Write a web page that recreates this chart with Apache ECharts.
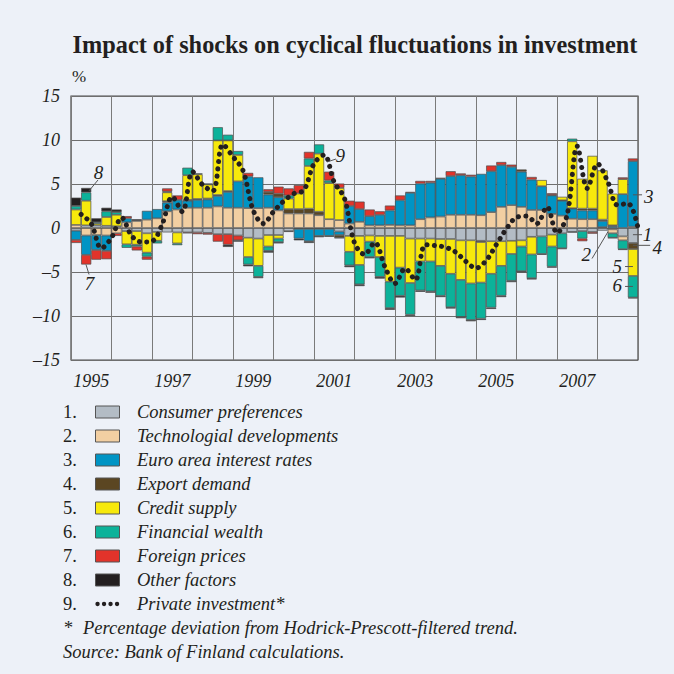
<!DOCTYPE html>
<html>
<head>
<meta charset="utf-8">
<script src="https://cdn.jsdelivr.net/npm/echarts@6/dist/echarts.min.js"></script>
<style>
  html, body { margin: 0; padding: 0; background: #EDF1F8; }
  #chart { width: 674px; height: 674px; }
</style>
</head>
<body>
<div id="chart"></div>
<script>
// years on the axis, one bar per quarter
var years = ['1995', '1996', '1997', '1998', '1999', '2000', '2001',
             '2002', '2003', '2004', '2005', '2006', '2007', '2008'];
var quarters = [];
years.forEach(function (y) {
  ['Q1', 'Q2', 'Q3', 'Q4'].forEach(function (q) { quarters.push(y + q); });
});
var yTicks = [-15, -10, -5, 0, 5, 10, 15];

// contributions, percentage points
var consumerPreferences = [
  -0.3, 0.3, 0.3, 0.25, 0.2, -0.35, -0.35, -0.6,
  -0.45, -0.5, -0.5, -0.5, -0.5, -0.55, -0.7, -0.7,
  -0.85, -1.1, -1.2, -0.8, -0.8, -0.35, -0.1, -0.1,
  -0.1, -0.1, -0.4, -0.9, -0.9, -0.85, -0.9, -0.9,
  -0.9, -1.2, -1.2, -1.2, -1.25, -1.25, -1.4, -1.4,
  -1.45, -1.5, -1.5, -1.45, -1.4, -1.0, -0.95, -0.75,
  -0.6, -0.45, -0.35, -0.45, -0.3, -0.15, -0.95, -1.7];
var technologicalDevelopments = [
  0.35, -0.85, -0.8, -0.85, -0.6, 0.65, 0.8, 0.95,
  1.1, 1.9, 2.1, 2.3, 2.3, 2.3, 2.45, 2.3,
  2.3, 2.26, 2.26, 2.3, 2.0, 1.65, 1.65, 1.65,
  1.45, 1.0, 0.9, 0.5, 0.7, 0.3, 0.3, 0.35,
  0.3, 0.3, 1.0, 1.2, 1.3, 1.5, 1.5, 1.5,
  1.45, 1.8, 2.4, 2.6, 2.4, 2.05, 2.05, 1.6,
  1.4, 1.05, 1.0, 1.0, 0.1, -0.45, -0.45, 0.15];
var euroAreaInterestRates = [
  -1.05, -2.2, -1.7, -1.75, 0, 0.45, 0, 1.0,
  1.05, 1.0, 1.1, 0.8, 0.9, 0.95, 1.2, 1.8,
  3.0, 3.6, 3.5, 1.5, 1.5, 0, -1.1, -1.4,
  -0.8, -0.8, -0.4, 2.0, 1.45, 1.05, 1.2, 1.65,
  2.85, 3.7, 4.05, 3.95, 4.3, 4.4, 4.5, 4.35,
  4.7, 4.65, 4.75, 4.35, 4.0, 3.45, 2.7, 2.1,
  1.7, 1.15, 1.0, 1.0, 0.7, 0.2, 3.85, 7.45];
var exportDemand = [
  0, 0, 0, 0, 0, 0, 0, 0,
  0, 0.15, 0, 0.1, 0.1, 0.1, 0.1, 0.1,
  0, 0, 0, 0.3, 0.4, 0.5, 0.5, 0.55,
  0.4, 0, -0.3, 0, 0, 0, 0, 0,
  0, 0, 0, 0, 0.1, 0, 0, 0,
  -0.15, 0, 0, 0, 0.25, 0, 0, 0.05,
  0.05, 0.05, 0.2, 0.2, 0.15, 0.1, 0, -0.7];
var creditSupply = [
  1.75, 2.8, 0.2, 1.0, 1.3, -1.5, -1.55, -2.2,
  -1.0, 1.0, -1.25, 2.8, 2.8, 1.6, 6.2, 5.75,
  3.0, -2.2, -3.1, -1.3, -0.4, 1.2, 1.77, 4.85,
  6.6, 4.1, 3.65, -1.8, -3.3, -0.7, -2.4, -5.2,
  -3.6, -5.05, -2.6, -2.6, -3.05, -3.95, -4.5, -4.9,
  -4.6, -3.7, -2.8, -1.5, -0.7, -2.0, 0.7, -1.35,
  0.4, 7.6, 3.4, 6.0, 5.6, 3.6, 1.7, -3.05];
var financialWealth = [
  0.4, 0.95, 0.15, 0.65, 0.3, -0.4, -0.2, -0.45,
  -0.3, 0.1, -0.2, 0.85, 0.1, 0.1, 1.5, 0.65,
  0.45, -0.85, -1.25, -0.5, -0.4, 0.35, 0, 0.85,
  1.05, 0.3, 0, -1.55, -2.2, -1.75, -2.25, -3.0,
  -3.2, -3.6, -3.3, -3.4, -3.4, -3.8, -4.2, -4.15,
  -4.1, -3.85, -3.4, -3.05, -2.8, -2.7, -2.0, -2.3,
  -1.7, 0.3, -0.85, 0, 0, -0.5, -1.0, -2.45];
var foreignPrices = [
  -0.35, -1.1, -1.1, -0.95, -0.3, 0.25, -0.45, -0.35,
  0, 0.35, 0.5, -0.1, -0.2, -0.2, -0.85, -1.2,
  -0.55, 0.4, 0, 0.3, 0.8, 0.8, 0.95, 0.75,
  0, 1.0, 0.5, 0.6, 0.85, 0.75, 0.4, 0.55,
  0.55, 0.1, 0.3, 0.2, 0, 0.55, 0.2, 0.2,
  0, 0.65, 0.35, 0.25, 0, 0.3, 0, 0.2,
  -0.1, 0, -0.3, -0.2, 0, 0, 0.2, 0.3];
var otherFactors = [
  0.95, 0.5, 0.45, 0.4, 0.3, 0, 0.2, 0,
  0, 0, 0, 0, 0, 0, 0, -0.25,
  -0.15, -0.2, -0.15, -0.2, -0.15, -0.1, -0.2, -0.2,
  -0.15, -0.1, -0.05, -0.2, -0.2, -0.15, -0.2, -0.2,
  -0.2, -0.15, -0.15, -0.15, -0.15, -0.15, -0.15, -0.15,
  -0.15, -0.15, -0.15, -0.15, -0.15, -0.15, -0.1, -0.1,
  0, -0.05, 0, 0, 0, -0.05, -0.1, -0.1];
// private investment, % deviation from HP trend, plotted at quarter ends
var privateInvestment = [
  1.55, 0.5, -2.3, -1.1, 1.17, -0.9, -1.6, -1.5,
  0.4, 3.55, 1.85, 6.4, 4.9, 4.2, 9.5, 8.1,
  6.5, 2.0, 0.5, 1.85, 3.05, 3.9, 4.3, 7.3,
  8.3, 5.2, 3.4, -1.7, -3.0, -1.65, -4.4, -6.3,
  -4.6, -5.9, -1.9, -2.0, -2.2, -2.75, -3.8, -4.55,
  -3.7, -1.9, -0.1, 1.2, 1.35, 0.5, 2.4, -0.55,
  1.5, 9.3, 4.5, 7.3, 5.3, 2.6, 2.8, 0.0];

var factors = [
  { name: 'Consumer preferences', color: '#B3BCC5', data: consumerPreferences },
  { name: 'Technologial developments', color: '#F2CFA2', data: technologicalDevelopments },
  { name: 'Euro area interest rates', color: '#0094C4', data: euroAreaInterestRates },
  { name: 'Export demand', color: '#5B4622', data: exportDemand },
  { name: 'Credit supply', color: '#F7E90C', data: creditSupply },
  { name: 'Financial wealth', color: '#0CB29A', data: financialWealth },
  { name: 'Foreign prices', color: '#E2332A', data: foreignPrices },
  { name: 'Other factors', color: '#231F20', data: otherFactors }
];
var lineName = 'Private investment*';

var ink = '#231F20';
var serif = '"Liberation Serif", "DejaVu Serif", serif';

var chart = echarts.init(document.getElementById('chart'), null, { renderer: 'svg' });

var series = factors.map(function (f) {
  return {
    name: f.name,
    type: 'bar',
    stack: 'total',
    barCategoryGap: '0%',
    xAxisIndex: 0,
    itemStyle: { color: f.color, borderColor: '#4d4d4d', borderWidth: 0.7 },
    data: f.data.map(function (v) { return v === 0 ? '-' : v; })
  };
});
series.push({
  name: lineName,
  type: 'line',
  xAxisIndex: 2,
  smooth: 0.35,
  symbol: 'none',
  z: 5,
  lineStyle: { color: ink, width: 5, type: [0.1, 7.2], cap: 'round' },
  data: privateInvestment.map(function (v, i) { return [i + 1, v]; })
});

var option = {
  backgroundColor: '#EDF1F8',
  animation: false,
  title: {
    text: 'Impact of shocks on cyclical fluctuations in investment',
    left: 350,
    textAlign: 'center',
    top: 27,
    textStyle: { fontFamily: serif, fontSize: 24.3, fontWeight: 'bold', color: ink }
  },
  grid: {
    left: 71, right: 36, top: 96, bottom: 314,
    show: true, borderColor: '#4a4a4a', borderWidth: 1.2
  },
  xAxis: [
    { type: 'category', data: quarters, show: false },
    {
      type: 'category', data: years, position: 'bottom',
      axisLine: { show: false }, axisTick: { show: false },
      axisLabel: {
        interval: 1, margin: 12, color: ink,
        fontFamily: serif, fontStyle: 'italic', fontSize: 18
      },
      splitLine: { show: true, interval: 0, lineStyle: { color: '#7a7a7a', width: 1 } }
    },
    { type: 'value', min: 0, max: quarters.length, show: false }
  ],
  yAxis: {
    type: 'value', min: yTicks[0], max: yTicks[yTicks.length - 1], interval: 5,
    axisLine: { show: false }, axisTick: { show: false },
    axisLabel: {
      margin: 11, color: ink, fontFamily: serif, fontStyle: 'italic', fontSize: 18,
      formatter: function (v) { return v < 0 ? '\u2013' + Math.abs(v) : String(v); }
    },
    splitLine: { lineStyle: { color: '#6e6e6e', width: 1 } }
  },
  series: series
};
chart.setOption(option);

// legend block, drawn as a numbered list under the plot
var graphics = [];
var rowTop = 412, rowGap = 24;
var textStyle = function (t, x, y, italic) {
  return {
    type: 'text', x: x, y: y,
    style: {
      text: t, fill: ink, font: (italic ? 'italic ' : '') + '18.5px ' + serif,
      textVerticalAlign: 'middle', verticalAlign: 'middle'
    }
  };
};
factors.forEach(function (f, i) {
  var y = rowTop + i * rowGap;
  graphics.push(textStyle((i + 1) + '.', 63, y, false));
  graphics.push({
    type: 'rect', shape: { x: 95.5, y: y - 6, width: 24, height: 12 },
    style: { fill: f.color, stroke: '#555', lineWidth: 1 }
  });
  graphics.push(textStyle(f.name, 137, y, true));
});
var lineRow = rowTop + factors.length * rowGap;
graphics.push(textStyle((factors.length + 1) + '.', 63, lineRow, false));
graphics.push({
  type: 'line', shape: { x1: 97.5, y1: lineRow, x2: 118, y2: lineRow },
  style: { stroke: ink, lineWidth: 4.3, lineDash: [0.1, 6.4], lineCap: 'round' }
});
graphics.push(textStyle(lineName, 137, lineRow, true));
graphics.push(textStyle('*', 63, lineRow + rowGap, true));
graphics.push(textStyle('Percentage deviation from Hodrick-Prescott-filtered trend.', 83, lineRow + rowGap, true));
graphics.push(textStyle('Source: Bank of Finland calculations.', 63, lineRow + 2 * rowGap, true));
graphics.push({
  type: 'text', x: 72, y: 76,
  style: { text: '%', fill: ink, font: '17px ' + serif, verticalAlign: 'middle' }
});

// numbered call-outs, positioned in data space (x in quarters, y in %)
var callouts = [
  { t: '8', at: [2.72, 6.3], from: [2.67, 5.46], to: [1.78, 4.22] },
  { t: '7', at: [1.83, -6.36], from: [1.48, -4.15], to: [1.78, -5.28] },
  { t: '9', at: [26.6, 8.23], from: [25.28, 7.5], to: [26.17, 7.84] },
  { t: '3', at: [57.05, 3.6], from: [55.5, 3.77], to: [56.4, 3.77] },
  { t: '1', at: [56.95, -0.76], from: [55.5, -0.76], to: [56.4, -0.76] },
  { t: '4', at: [57.9, -2.17], from: [55.5, -1.97], to: [57.2, -1.97] },
  { t: '2', at: [50.9, -3.02], from: [51.46, -3.47], to: [53.04, -0.42] },
  { t: '5', at: [53.95, -4.32], from: [54.72, -4.38], to: [55.5, -4.38] },
  { t: '6', at: [53.95, -6.58], from: [54.72, -6.64], to: [55.5, -6.64] }
];
function toPx(p) { return chart.convertToPixel({ xAxisIndex: 2, yAxisIndex: 0 }, p); }
callouts.forEach(function (c) {
  var a = toPx(c.from), b = toPx(c.to), p = toPx(c.at);
  graphics.push({
    type: 'line', shape: { x1: a[0], y1: a[1], x2: b[0], y2: b[1] },
    style: { stroke: '#555', lineWidth: 1 }, z: 10
  });
  graphics.push({
    type: 'text', x: p[0], y: p[1], z: 10,
    style: {
      text: c.t, fill: ink, font: 'italic 19px ' + serif,
      align: 'center', verticalAlign: 'middle'
    }
  });
});

chart.setOption({ graphic: graphics });
</script>
</body>
</html>
